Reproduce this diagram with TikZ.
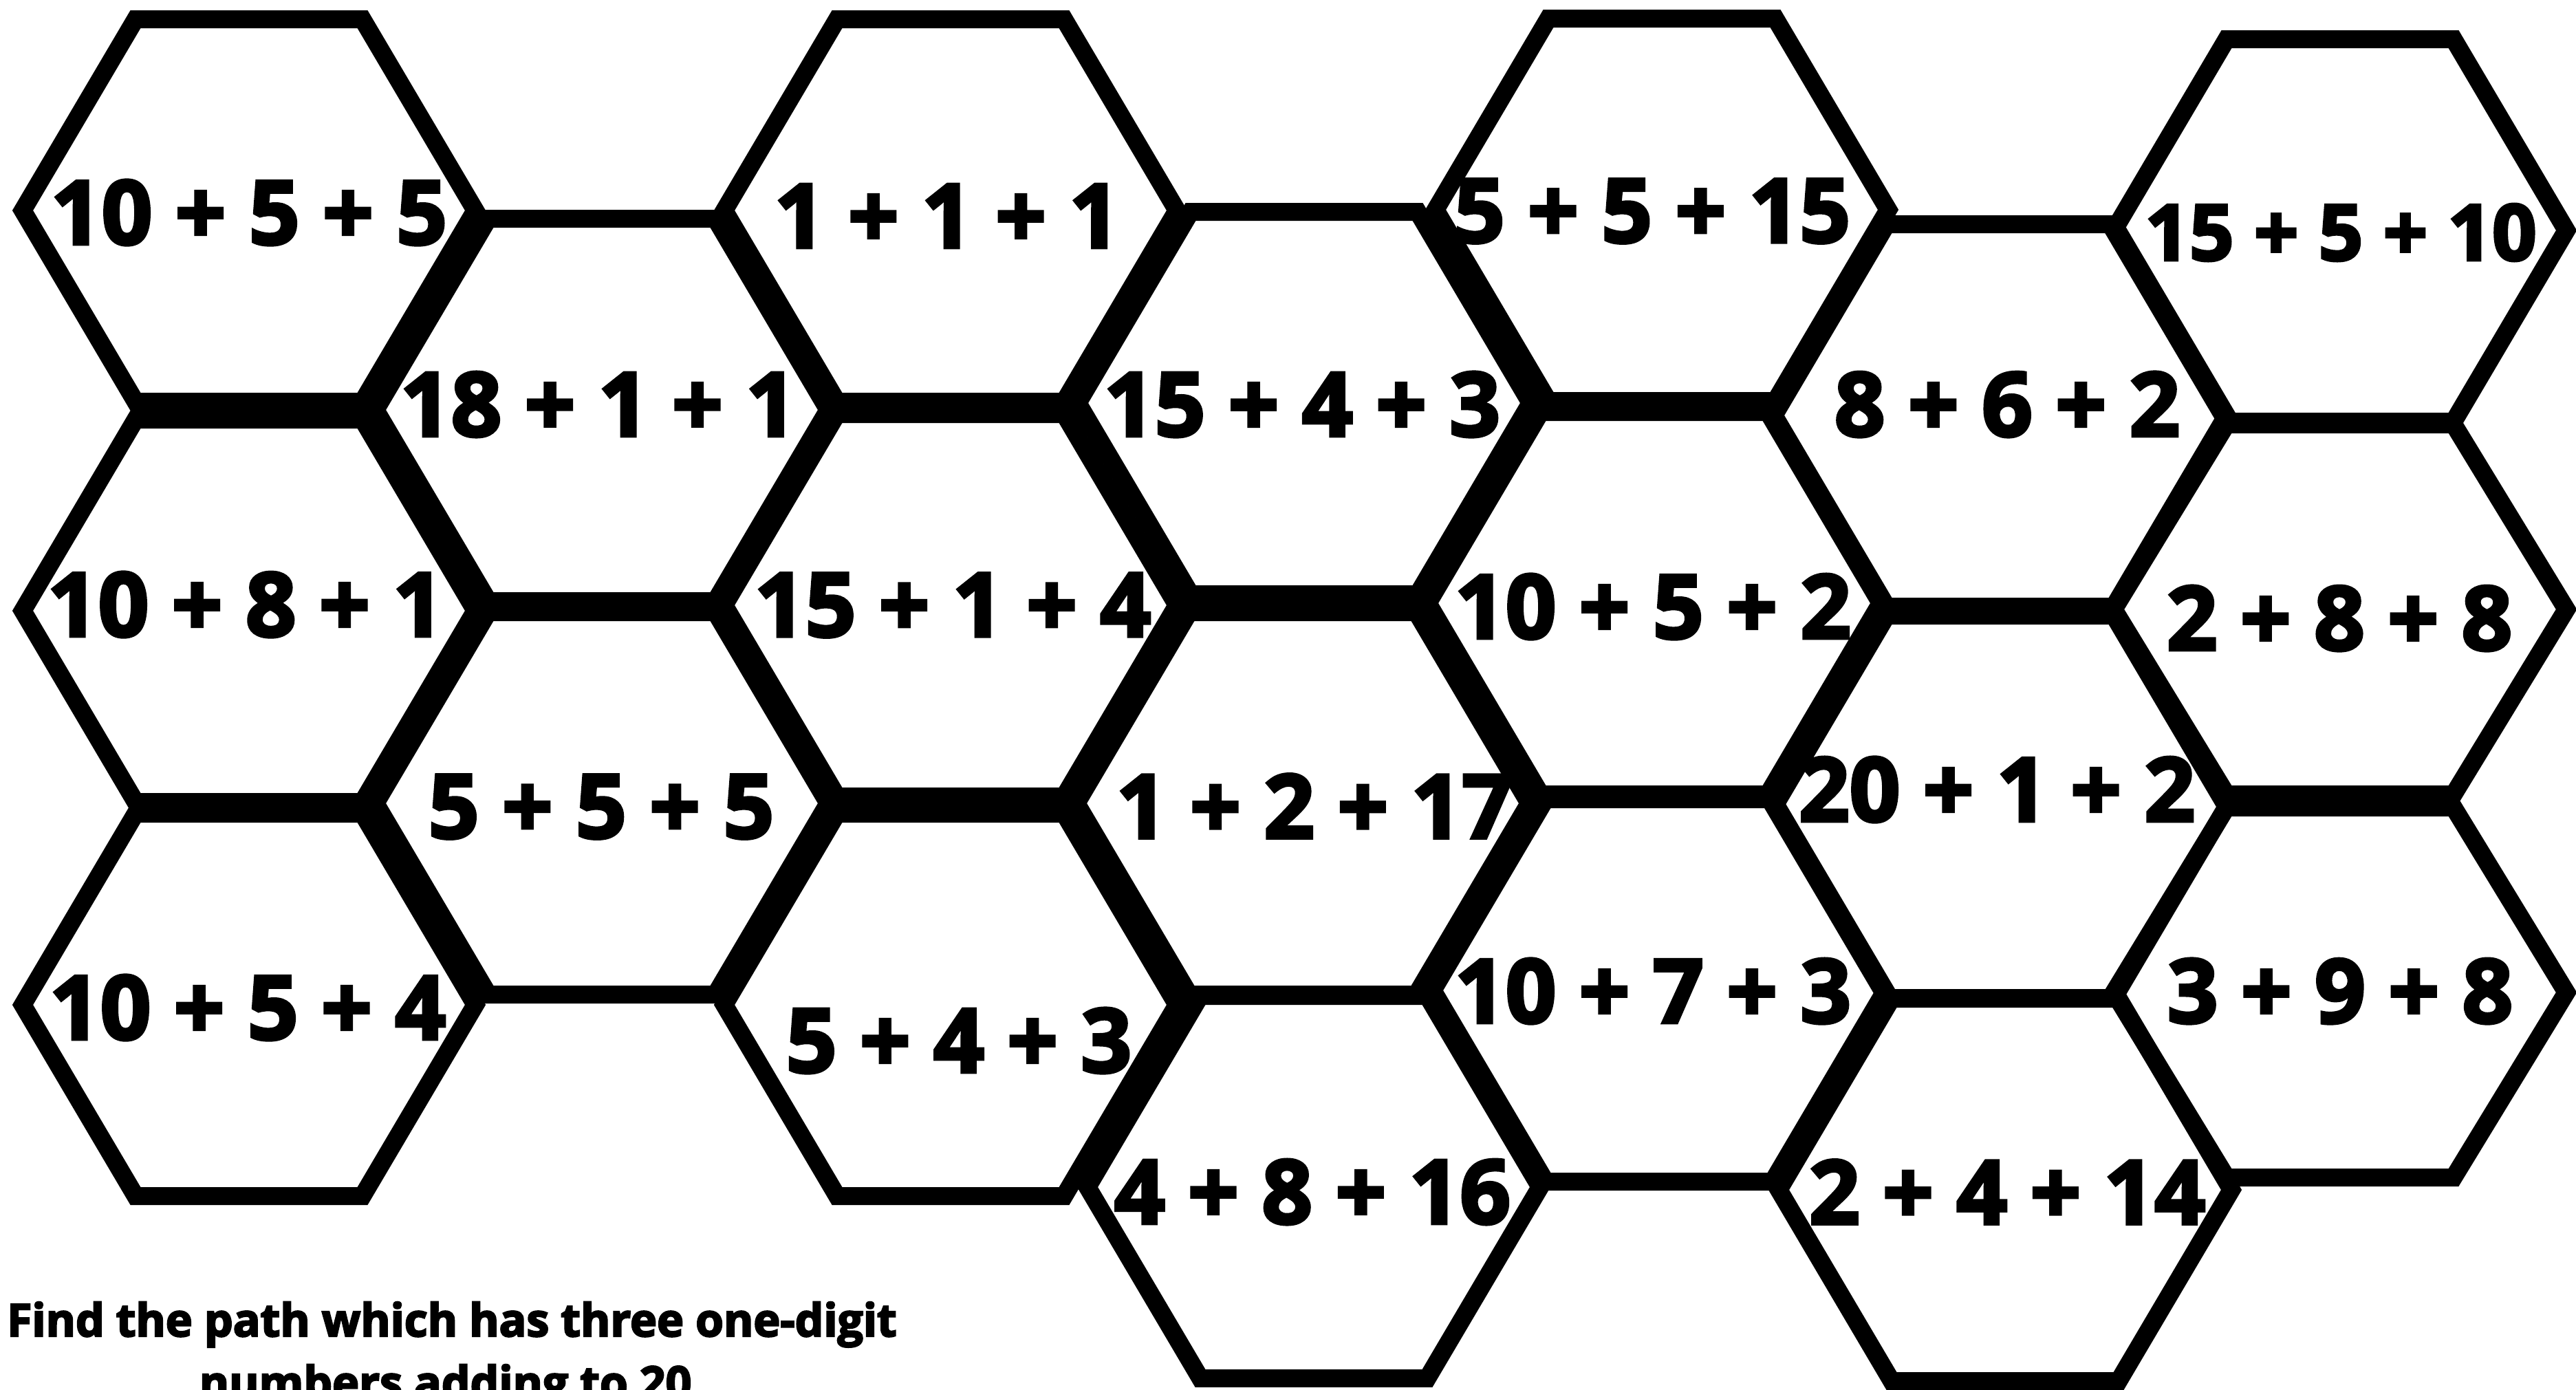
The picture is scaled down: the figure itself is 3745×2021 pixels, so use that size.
\documentclass[tikz,border=0pt]{standalone}
\usepackage{fontspec}
\setmainfont{Open Sans}[BoldFeatures={FakeBold=3.5}]
\newcommand\hexcell[4]{% name, cx, cy, half-height
  \coordinate (#1) at (#2,#3);
  \draw[hexline] (#2-329,#3) -- (#2-165,#3-#4) -- (#2+165,#3-#4) -- (#2+329,#3)
    -- (#2+165,#3+#4) -- (#2-165,#3+#4) -- cycle;}
\begin{document}
\begin{tikzpicture}[x=1pt,y=-1pt,
  hexline/.style={line width=26pt, line join=miter, draw=black},
  sumtext/.style={font=\fontsize{129}{140}\selectfont\bfseries, inner sep=0pt, anchor=center},
  smallsum/.style={font=\fontsize{113}{124}\selectfont\bfseries, inner sep=0pt, anchor=center},
  notetext/.style={font=\fontsize{66}{91}\selectfont\bfseries, inner sep=0pt, anchor=base}]
\fill[white] (0,0) rectangle (3745,2021);
\useasboundingbox (0,0) rectangle (3745,2021);
% column 0
\hexcell{h1}{362}{306}{278}
\hexcell{h2}{362}{888}{278}
\hexcell{h3}{362}{1461}{278}
% column 1
\hexcell{h4}{875}{596}{278}
\hexcell{h5}{875}{1168}{278}
% column 2
\hexcell{h6}{1382}{306}{278}
\hexcell{h7}{1382}{880}{278}
\hexcell{h8}{1382}{1461}{278}
% column 3
\hexcell{h9}{1896}{586}{278}
\hexcell{h10}{1894}{1168}{278}
\hexcell{h11}{1910}{1726}{278}
% column 4
\hexcell{h12}{2416}{305}{278}
\hexcell{h13}{2405}{877}{278}
\hexcell{h14}{2412}{1440}{278}
% column 5
\hexcell{h15}{2908}{604}{278}
\hexcell{h16}{2908}{1173}{278}
\hexcell{h17}{2915}{1730}{278}
% column 6
\hexcell{h18}{3402}{335}{278}
\hexcell{h19}{3402}{886}{269}
\hexcell{h20}{3402}{1443}{269}
% sums
\node[sumtext] (t1) at (362,309) {10 + 5 + 5};
\node[sumtext] (t2) at (357,879) {10 + 8 + 1};
\node[sumtext] (t3) at (360,1465) {10 + 5 + 4};
\node[sumtext] (t4) at (870,588) {18 + 1 + 1};
\node[sumtext] (t5) at (874,1173) {5 + 5 + 5};
\node[sumtext] (t6) at (1377,314) {1 + 1 + 1};
\node[sumtext] (t7) at (1385,880) {15 + 1 + 4};
\node[sumtext] (t8) at (1394,1513) {5 + 4 + 3};
\node[sumtext] (t9) at (1893,588) {15 + 4 + 3};
\node[sumtext] (t10) at (1911,1172) {1 + 2 + 17};
\node[sumtext] (t11) at (1908,1733) {4 + 8 + 16};
\node[sumtext] (t12) at (2402,307) {5 + 5 + 15};
\node[sumtext] (t13) at (2403,882) {10 + 5 + 2};
\node[sumtext] (t14) at (2403,1441) {10 + 7 + 3};
\node[sumtext] (t15) at (2918,588) {8 + 6 + 2};
\node[sumtext] (t16) at (2903,1148) {20 + 1 + 2};
\node[sumtext] (t17) at (2918,1733) {2 + 4 + 14};
\node[smallsum] (t18) at (3403,338) {15 + 5 + 10};
\node[sumtext] (t19) at (3401,899) {2 + 8 + 8};
\node[sumtext] (t20) at (3402,1441) {3 + 9 + 8};
% instruction
\node[notetext] (q1) at (657,1943) {Find the path which has three one-digit};
\node[notetext] (q2) at (657,2034) {numbers adding to 20.};
\end{tikzpicture}
\end{document}
